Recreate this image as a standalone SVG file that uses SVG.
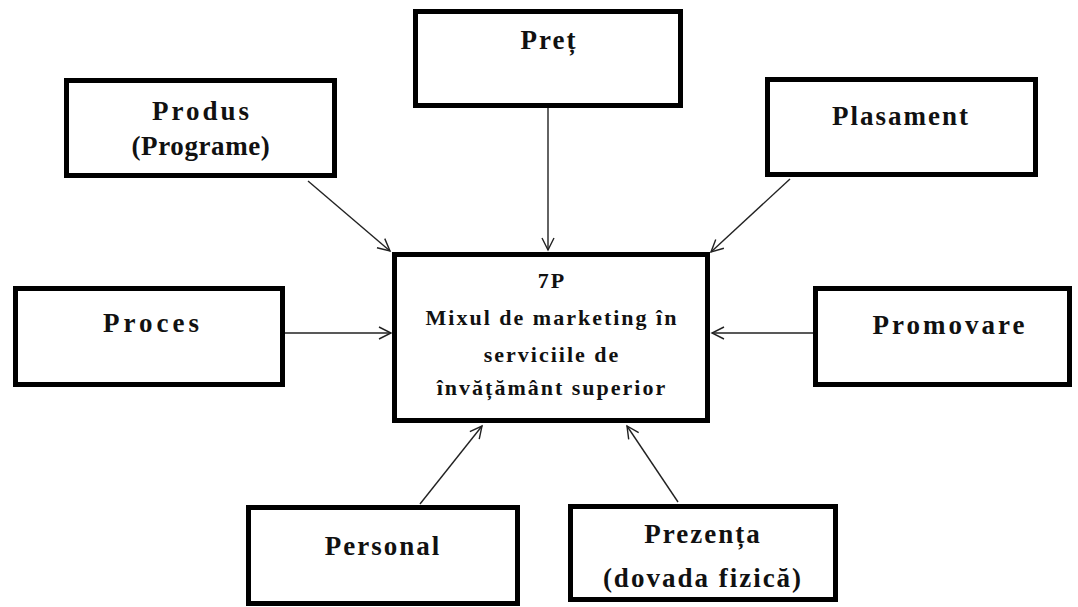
<svg xmlns="http://www.w3.org/2000/svg" width="1078" height="607" viewBox="0 0 1078 607">
<style>
.box{fill:#fff;stroke:#000;stroke-width:5}
.lbl{font-family:"Liberation Serif","Times New Roman",serif;font-weight:bold;font-size:27px;letter-spacing:2px;fill:#111;text-anchor:middle}
.ctr{font-family:"Liberation Serif","Times New Roman",serif;font-weight:bold;font-size:22px;letter-spacing:2px;fill:#111;text-anchor:middle}
.con{stroke:#222;stroke-width:1.4;fill:none;marker-end:url(#arr)}
</style>
<defs>
<marker id="arr" markerUnits="userSpaceOnUse" markerWidth="16" markerHeight="16" refX="13" refY="7" orient="auto">
<path d="M1,1 L13,7 L1,13" fill="none" stroke="#222" stroke-width="1.4"/>
</marker>
</defs>
<rect width="1078" height="607" fill="#fff"/>
<g id="connectors">
<line class="con" x1="308" y1="181" x2="390" y2="251"/>
<line class="con" x1="548" y1="108" x2="548" y2="250"/>
<line class="con" x1="790" y1="179" x2="711" y2="252"/>
<line class="con" x1="285" y1="333" x2="391" y2="333"/>
<line class="con" x1="813" y1="333" x2="712" y2="333"/>
<line class="con" x1="420" y1="504" x2="482" y2="426"/>
<line class="con" x1="678" y1="502" x2="627" y2="426"/>
</g>
<g id="center">
<rect class="box" x="394.5" y="254.5" width="313" height="166"/>
<text class="ctr" x="552" y="288">7P</text>
<text class="ctr" x="552" y="325">Mixul de marketing în</text>
<text class="ctr" x="552" y="362">serviciile de</text>
<text class="ctr" x="552" y="395">învățământ superior</text>
</g>
<g id="pret">
<rect class="box" x="415.5" y="11.5" width="265" height="94"/>
<text class="lbl" x="549" y="49">Preț</text>
</g>
<g id="produs">
<rect class="box" x="66.5" y="80.5" width="268" height="95"/>
<text class="lbl" x="202" y="120" style="letter-spacing:3px">Produs</text>
<text class="lbl" x="201" y="155" style="letter-spacing:0.6px">(Programe)</text>
</g>
<g id="plasament">
<rect class="box" x="767.5" y="79.5" width="268" height="95"/>
<text class="lbl" x="901" y="125">Plasament</text>
</g>
<g id="proces">
<rect class="box" x="15.5" y="288.5" width="267" height="96"/>
<text class="lbl" x="153" y="332" style="letter-spacing:4px">Proces</text>
</g>
<g id="promovare">
<rect class="box" x="815.5" y="288.5" width="254" height="96"/>
<text class="lbl" x="950" y="334" style="letter-spacing:3px">Promovare</text>
</g>
<g id="personal">
<rect class="box" x="248.5" y="507.5" width="269" height="96"/>
<text class="lbl" x="383" y="555">Personal</text>
</g>
<g id="prezenta">
<rect class="box" x="570.5" y="506.5" width="265" height="93"/>
<text class="lbl" x="703" y="543">Prezența</text>
<text class="lbl" x="703" y="587">(dovada fizică)</text>
</g>
</svg>
